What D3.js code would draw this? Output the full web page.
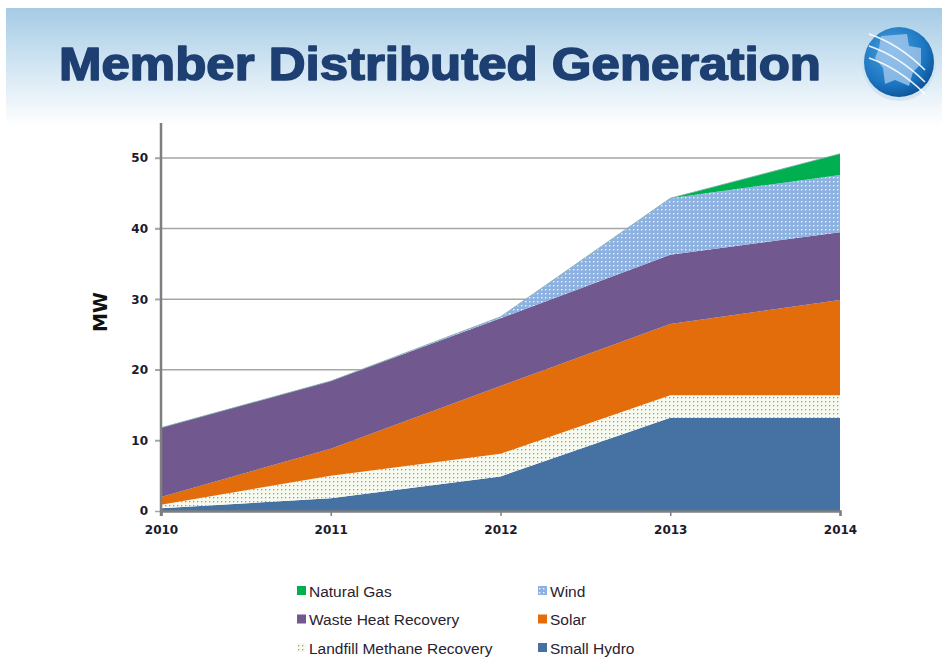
<!DOCTYPE html>
<html>
<head>
<meta charset="utf-8">
<script src="https://cdn.jsdelivr.net/npm/d3@7"></script>
<style>
  body { margin: 0; background: #fff; }
  svg text { font-family: "Liberation Sans", Arial, sans-serif; }
</style>
</head>
<body>
<div id="chart"></div>
<script>
// data
var years = [2010, 2011, 2012, 2013, 2014];
var smallHydro = [0.4, 1.8, 4.9, 13.2, 13.2];
var landfill = [0.5, 3.2, 3.2, 3.2, 3.2];
var solar = [1.1, 3.8, 9.6, 10.1, 13.5];
var wasteHeat = [9.8, 9.6, 9.6, 9.8, 9.6];
var wind = [0, 0, 0.2, 8.0, 8.1];
var naturalGas = [0, 0, 0, 0, 3.0];
var yTicks = [0, 10, 20, 30, 40, 50];

var seriesNames = ["Small Hydro", "Landfill Methane Recovery", "Solar", "Waste Heat Recovery", "Wind", "Natural Gas"];
var seriesValues = [smallHydro, landfill, solar, wasteHeat, wind, naturalGas];
var fills = {
    "Small Hydro": "#4571a3",
    "Landfill Methane Recovery": "url(#landfillPat)",
    "Solar": "#e36c0b",
    "Waste Heat Recovery": "#71588f",
    "Wind": "url(#windPat)",
    "Natural Gas": "#00b050"
};
// legend order as on the slide (two columns)
var legendOrder = ["Natural Gas", "Wind", "Waste Heat Recovery", "Solar", "Landfill Methane Recovery", "Small Hydro"];

var width = 942, height = 658;
var svg = d3.select("#chart").append("svg")
    .attr("width", width)
    .attr("height", height);

var defs = svg.append("defs");

var hdr = defs.append("linearGradient").attr("id", "hdrGrad")
    .attr("x1", 0).attr("y1", 0).attr("x2", 0).attr("y2", 1);
hdr.append("stop").attr("offset", "0%").attr("stop-color", "#a5cbe5");
hdr.append("stop").attr("offset", "50%").attr("stop-color", "#d3e6f3");
hdr.append("stop").attr("offset", "100%").attr("stop-color", "#ffffff");

var logoGrad = defs.append("radialGradient").attr("id", "logoGrad")
    .attr("cx", "40%").attr("cy", "35%").attr("r", "70%");
logoGrad.append("stop").attr("offset", "0%").attr("stop-color", "#4aa3e0");
logoGrad.append("stop").attr("offset", "70%").attr("stop-color", "#1a74c0");
logoGrad.append("stop").attr("offset", "100%").attr("stop-color", "#0d4f92");

var windPat = defs.append("pattern").attr("id", "windPat")
    .attr("patternUnits", "userSpaceOnUse").attr("width", 4).attr("height", 4);
windPat.append("rect").attr("width", 4).attr("height", 4).attr("fill", "#8db2e2");
windPat.append("rect").attr("x", 1).attr("y", 1).attr("width", 1.4).attr("height", 1.4).attr("fill", "#eef4fb");

var lfPat = defs.append("pattern").attr("id", "landfillPat")
    .attr("patternUnits", "userSpaceOnUse").attr("width", 4).attr("height", 4);
lfPat.append("rect").attr("width", 4).attr("height", 4).attr("fill", "#f7faf0");
lfPat.append("rect").attr("x", 1).attr("y", 1).attr("width", 1.3).attr("height", 1.3).attr("fill", "#8aab55");

// header band
svg.append("rect")
    .attr("x", 6).attr("y", 8)
    .attr("width", width - 6).attr("height", 118)
    .attr("fill", "url(#hdrGrad)");

svg.append("text")
    .attr("x", 59).attr("y", 80)
    .attr("textLength", 762)
    .attr("lengthAdjust", "spacingAndGlyphs")
    .attr("font-size", 46)
    .attr("font-weight", "bold")
    .attr("fill", "#1e3f72")
    .attr("stroke", "#1e3f72")
    .attr("stroke-width", 1.6)
    .attr("stroke-linejoin", "round")
    .text("Member Distributed Generation");

// logo
var logo = svg.append("g").attr("transform", "translate(899,62)");
logo.append("circle").attr("r", 37).attr("fill", "#c7dceb").attr("opacity", 0.6).attr("cy", 2);
logo.append("circle").attr("r", 35).attr("fill", "url(#logoGrad)");
logo.append("path")
    .attr("d", "M-18,-26 L8,-28 L10,-16 L22,-14 L22,2 L14,10 L10,24 L-4,18 L-14,22 L-16,6 L-24,-4 L-20,-14 Z")
    .attr("fill", "#a9cbee").attr("opacity", 0.75);
[-10, 2, 14].forEach(function(o) {
    logo.append("path")
        .attr("d", "M" + (-30) + "," + (o - 18) + " Q 0," + (o - 8) + " 26," + (o + 18))
        .attr("fill", "none").attr("stroke", "#ffffff").attr("stroke-width", 1.6).attr("opacity", 0.9);
});

// plot
var x = d3.scaleLinear().domain([2010, 2014]).range([161, 840]);
var y = d3.scaleLinear().domain([0, 50]).range([511, 158]);

var table = years.map(function(yr, i) {
    var row = { year: yr };
    seriesNames.forEach(function(n, k) { row[n] = seriesValues[k][i]; });
    return row;
});
var stacked = d3.stack().keys(seriesNames)(table);

// gridlines
svg.append("g")
    .selectAll("line")
    .data(yTicks.slice(1))
    .join("line")
    .attr("x1", 155).attr("x2", 840)
    .attr("y1", function(d) { return y(d); })
    .attr("y2", function(d) { return y(d); })
    .attr("stroke", "#a6a6a6")
    .attr("stroke-width", 1.5);

var area = d3.area()
    .x(function(d) { return x(d.data.year); })
    .y0(function(d) { return y(d[0]); })
    .y1(function(d) { return y(d[1]); });

svg.append("g")
    .selectAll("path")
    .data(stacked)
    .join("path")
    .attr("fill", function(d) { return fills[d.key]; })
    .attr("d", area);

// thin edge along the top of the stack
var topLine = d3.line()
    .x(function(d) { return x(d.data.year); })
    .y(function(d) { return y(d[1]); });
svg.append("path")
    .datum(stacked[stacked.length - 1])
    .attr("fill", "none")
    .attr("stroke", "#7fb0a8")
    .attr("stroke-width", 0.8)
    .attr("d", topLine);

// y axis
var yAxis = svg.append("g")
    .attr("transform", "translate(161,0)")
    .call(d3.axisLeft(y).tickValues(yTicks).tickSize(6).tickFormat(d3.format("d")));
yAxis.select(".domain").remove();
yAxis.selectAll(".tick line").attr("stroke", "#a6a6a6").attr("stroke-width", 1.5);
yAxis.selectAll(".tick text")
    .attr("x", -13)
    .attr("font-size", 12).attr("font-weight", "bold")
    .attr("fill", "#1a1a2e")
    .style("font-family", "'DejaVu Sans', sans-serif");
svg.append("line")
    .attr("x1", 161).attr("x2", 161).attr("y1", 123).attr("y2", 516)
    .attr("stroke", "#7f7f7f").attr("stroke-width", 2.5);

// x axis
var xAxis = svg.append("g")
    .attr("transform", "translate(0,511)")
    .call(d3.axisBottom(x).tickValues(years).tickSize(5).tickFormat(d3.format("d")));
xAxis.select(".domain").attr("stroke", "#7f7f7f").attr("stroke-width", 2.5);
xAxis.selectAll(".tick line").attr("stroke", "#7f7f7f").attr("stroke-width", 1.5);
xAxis.selectAll(".tick text")
    .attr("y", 14)
    .attr("font-size", 12).attr("font-weight", "bold")
    .attr("fill", "#1a1a2e")
    .style("font-family", "'DejaVu Sans', sans-serif");

svg.append("text")
    .attr("transform", "translate(107,312) rotate(-90)")
    .attr("text-anchor", "middle")
    .attr("font-size", 19).attr("font-weight", "bold")
    .attr("fill", "#111")
    .style("font-family", "'DejaVu Sans', sans-serif")
    .text("MW");

// legend
var legend = svg.append("g");
var items = legend.selectAll("g")
    .data(legendOrder)
    .join("g")
    .attr("transform", function(d, i) {
        var col = i % 2, row = Math.floor(i / 2);
        return "translate(" + (col === 0 ? 297 : 538) + "," + (591 + row * 28.5) + ")";
    });
items.append("rect")
    .attr("x", 0).attr("y", -5).attr("width", 9).attr("height", 9)
    .attr("fill", function(d) { return fills[d]; });
items.append("text")
    .attr("x", 12).attr("y", 5.5)
    .attr("font-size", 15.5)
    .attr("fill", "#2a2230")
    .text(function(d) { return d; });
</script>
</body>
</html>
